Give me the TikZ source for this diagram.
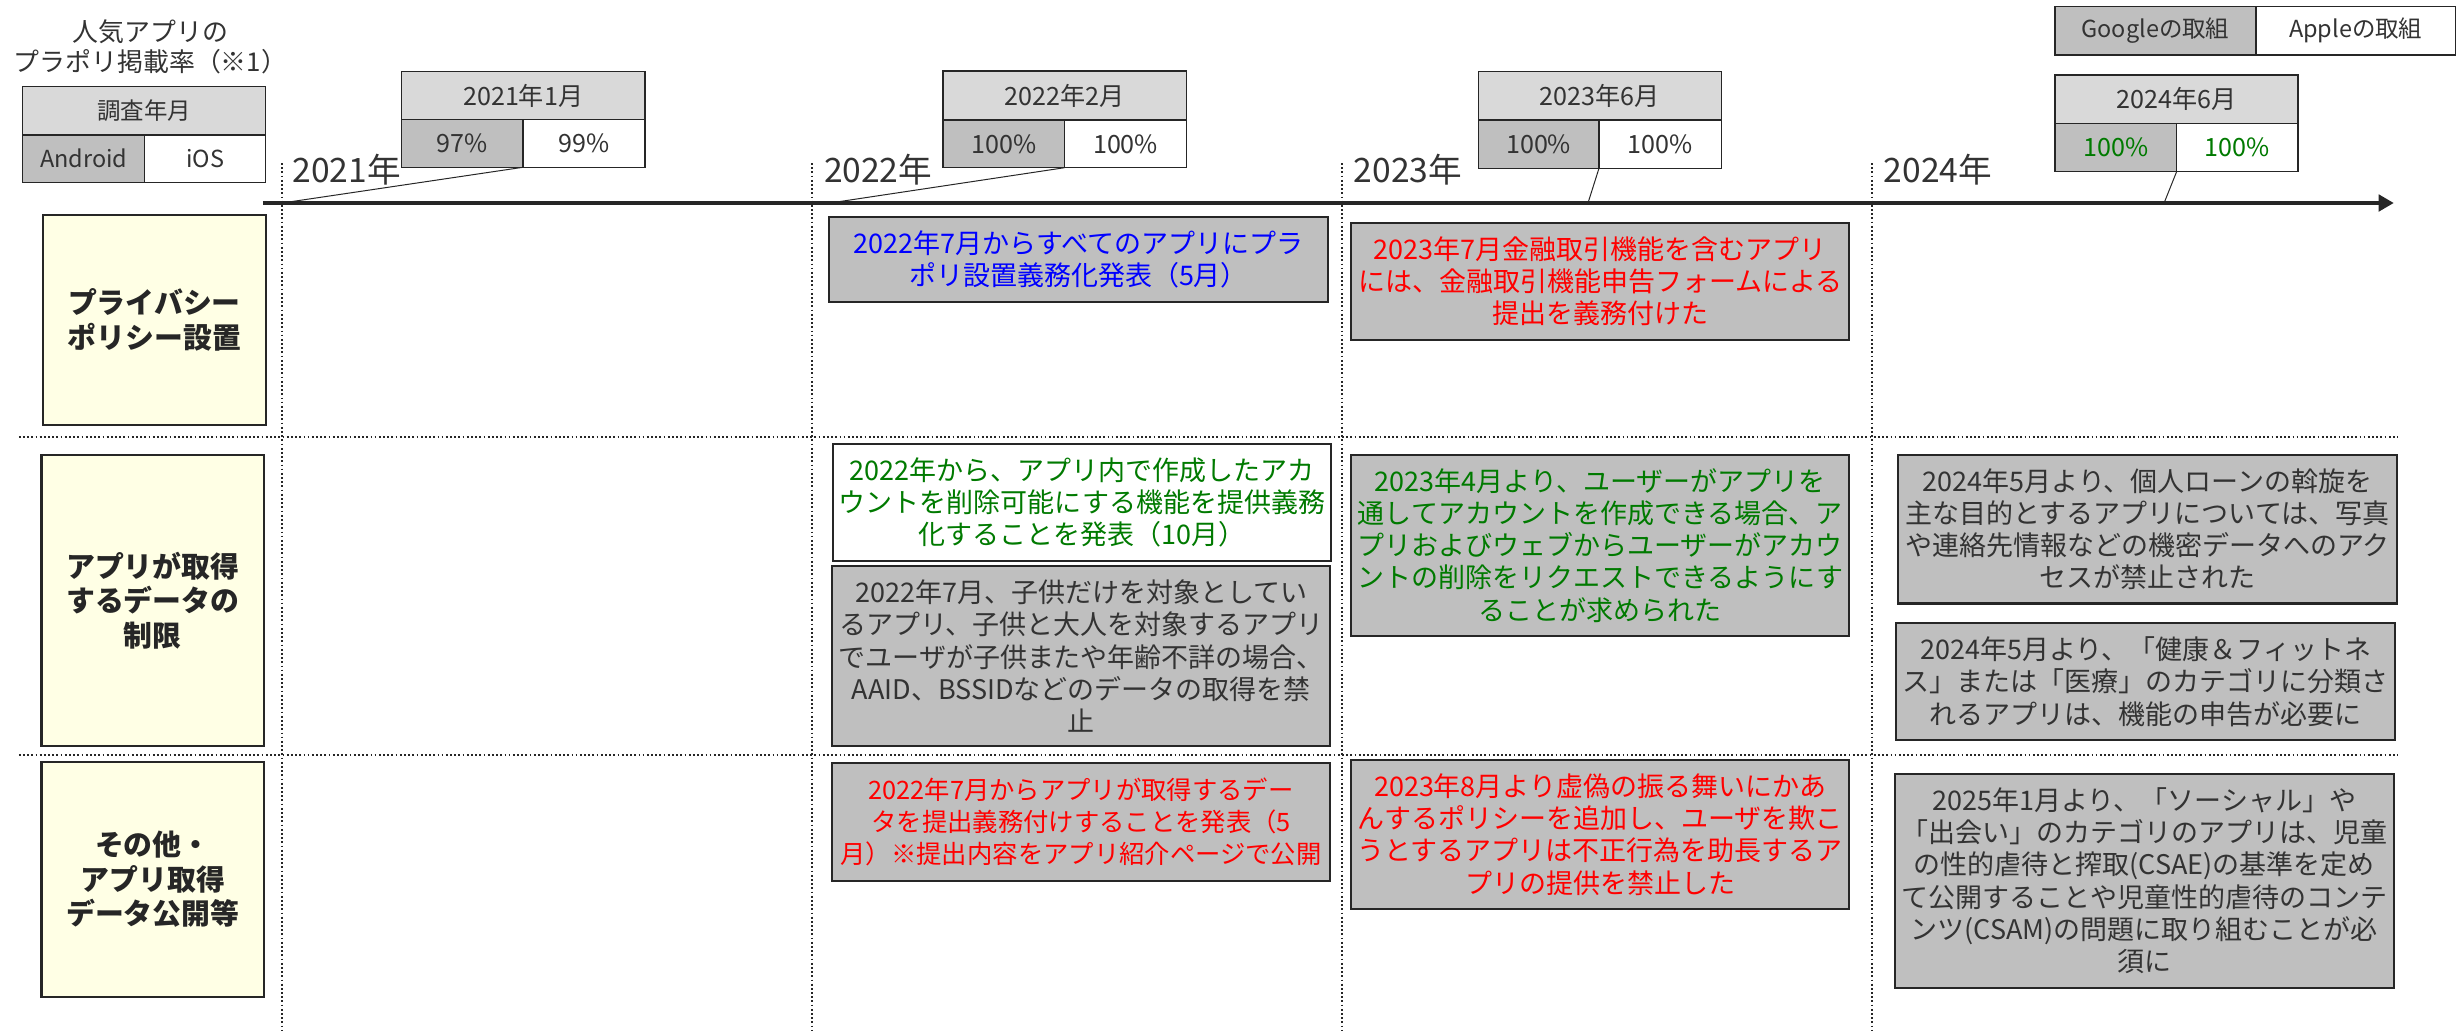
\documentclass[tikz,border=0pt]{standalone}
\usepackage{fontspec}
\setmainfont{Noto Sans CJK JP}
\usetikzlibrary{arrows.meta}
\definecolor{gry}{HTML}{BFBFBF}
\definecolor{hdr}{HTML}{D9D9D9}
\definecolor{yel}{HTML}{FFFFE5}
\definecolor{bdr}{HTML}{262626}
\definecolor{txt}{HTML}{333333}
\definecolor{blu}{HTML}{0000FF}
\definecolor{rd}{HTML}{FF0000}
\definecolor{grn}{HTML}{007A00}
\def\U{0.5mm}
\begin{document}
\begin{tikzpicture}[x=0.5mm,y=-0.5mm,
 tbox/.style={draw=bdr, line width=1.9pt, inner sep=0pt, outer sep=0pt, anchor=north west, align=center, font=\fontsize{24.5}{29.2}\selectfont},
 catbox/.style={draw=bdr, fill=yel, line width=1.9pt, inner sep=0pt, outer sep=0pt, anchor=north west, align=center, text=bdr, font=\fontsize{26.2}{31.3}\selectfont\bfseries},
 cell/.style={draw=bdr, line width=1.3pt, inner sep=0pt, outer sep=0pt, anchor=north west, text=txt, font=\fontsize{22.8}{27}\selectfont},
 lcell/.style={cell, font=\fontsize{21.3}{25}\selectfont},
 dotline/.style={draw=bdr, line width=1.6pt, dash pattern=on 1.6pt off 2.2pt},
 conn/.style={draw=bdr, line width=0.9pt},
 yr/.style={anchor=west, inner sep=0pt, text=txt, font=\fontsize{30.5}{36}\selectfont}
]
\useasboundingbox (0,0) rectangle (1568,657.7);
\fill[white] (0,0) rectangle (1568,657.7);

% grid lines
\foreach \x [count=\i] in {180,518,856,1194}{
  \coordinate (vt\i) at (\x,104);
  \coordinate (vb\i) at (\x,657.7);
  \draw[dotline] (vt\i) -- (vb\i);
}
\coordinate (h1l) at (12,279); \coordinate (h1r) at (1530,279);
\coordinate (h2l) at (12,481.5); \coordinate (h2r) at (1530,481.5);
\draw[dotline] (h1l) -- (h1r);
\draw[dotline] (h2l) -- (h2r);

% title
\node[align=center, inner sep=0pt, text=txt, font=\fontsize{23.5}{27.3}\selectfont] (title) at (96,29.7) {人気アプリの\\プラポリ掲載率（※1）};

% legend: survey
\node[lcell, fill=hdr, minimum width=155*\U, minimum height=30.7*\U] (lgh) at (14.5,55.3) {調査年月};
\node[lcell, fill=gry, minimum width=77.8*\U, minimum height=30.5*\U] (lga) at (14.5,86) {Android};
\node[lcell, fill=white, minimum width=77.2*\U, minimum height=30.5*\U] (lgi) at (92.3,86) {iOS};

% legend: Google / Apple
\node[lcell, fill=gry, minimum width=128*\U, minimum height=30.7*\U] (lgo) at (1311,4.3) {Googleの取組};
\node[lcell, fill=white, minimum width=127.5*\U, minimum height=30.7*\U] (lap) at (1439,4.3) {Appleの取組};

% timeline
\coordinate (tl0) at (167.7,129.5);
\coordinate (tl1) at (1527,129.5);
\draw[draw=bdr, line width=3pt, -{Triangle[length=13.7pt,width=15pt]}] (tl0) -- (tl1);
\coordinate (t1) at (180,129.5);
\coordinate (t2) at (529.5,129.5);
\coordinate (t3) at (1013,129.5);
\coordinate (t4) at (1380.5,129.5);

% year labels
\node[yr] (y1) at (186.5,108) {2021年};
\node[yr] (y2) at (525.5,108) {2022年};
\node[yr] (y3) at (863.5,108) {2023年};
\node[yr] (y4) at (1201.5,108) {2024年};

% survey boxes
\node[cell, fill=hdr, minimum width=155.5*\U, minimum height=30.5*\U] (s1h) at (256,45.7) {2021年1月};
\node[cell, fill=gry, minimum width=77.7*\U, minimum height=30.5*\U] (s1g) at (256,76.2) {97\%};
\node[cell, fill=white, minimum width=77.8*\U, minimum height=30.5*\U] (s1a) at (333.7,76.2) {99\%};

\node[cell, fill=hdr, minimum width=155.4*\U, minimum height=31.3*\U] (s2h) at (601.6,45.3) {2022年2月};
\node[cell, fill=gry, minimum width=77.4*\U, minimum height=30.4*\U] (s2g) at (601.6,76.6) {100\%};
\node[cell, fill=white, minimum width=78*\U, minimum height=30.4*\U] (s2a) at (679,76.6) {100\%};

\node[cell, fill=hdr, minimum width=155*\U, minimum height=30.9*\U] (s3h) at (943,45.7) {2023年6月};
\node[cell, fill=gry, minimum width=77*\U, minimum height=30.8*\U] (s3g) at (943,76.6) {100\%};
\node[cell, fill=white, minimum width=78*\U, minimum height=30.8*\U] (s3a) at (1020,76.6) {100\%};

\node[cell, fill=hdr, minimum width=155*\U, minimum height=30.8*\U] (s4h) at (1311,47.9) {2024年6月};
\node[cell, fill=gry, minimum width=77.5*\U, minimum height=30.8*\U, text=grn] (s4g) at (1311,78.7) {100\%};
\node[cell, fill=white, minimum width=77.5*\U, minimum height=30.8*\U, text=grn] (s4a) at (1388.5,78.7) {100\%};

\draw[conn] (s1g.south east) -- (t1);
\draw[conn] (s2g.south east) -- (t2);
\draw[conn] (s3g.south east) -- (t3);
\draw[conn] (s4g.south east) -- (t4);

% category boxes
\node[catbox, minimum width=142*\U, minimum height=134*\U] (c1) at (27.5,137) {プライバシー\\ポリシー設置};
\node[catbox, minimum width=142*\U, minimum height=186*\U] (c2) at (26.5,290) {アプリが取得\\するデータの\\制限};
\node[catbox, minimum width=142*\U, minimum height=150*\U] (c3) at (26.5,486) {その他・\\アプリ取得\\データ公開等};

% row 1
\node[tbox, fill=gry, text=blu, minimum width=318*\U, minimum height=53.8*\U] (a1) at (529,138.6) {2022年7月からすべてのアプリにプラ\\ポリ設置義務化発表（5月）};
\node[tbox, fill=gry, text=rd, minimum width=317.6*\U, minimum height=75*\U] (b1) at (862,142) {2023年7月金融取引機能を含むアプリ\\には、金融取引機能申告フォームによる\\提出を義務付けた};

% row 2
\node[tbox, fill=white, text=grn, minimum width=317.5*\U, minimum height=74.2*\U] (a2a) at (531.5,283.5) {2022年から、アプリ内で作成したアカ\\ウントを削除可能にする機能を提供義務\\化することを発表（10月）};
\node[tbox, fill=gry, text=txt, minimum width=317.5*\U, minimum height=115*\U] (a2b) at (531,361) {2022年7月、子供だけを対象としてい\\るアプリ、子供と大人を対象するアプリ\\でユーザが子供またや年齢不詳の場合、\\AAID、BSSIDなどのデータの取得を禁\\止};
\node[tbox, fill=gry, text=grn, minimum width=317.6*\U, minimum height=115.3*\U] (b2) at (862,290.3) {2023年4月より、ユーザーがアプリを\\通してアカウントを作成できる場合、ア\\プリおよびウェブからユーザーがアカウ\\ントの削除をリクエストできるようにす\\ることが求められた};
\node[tbox, fill=gry, text=txt, minimum width=318*\U, minimum height=95*\U] (c2a) at (1211,290) {2024年5月より、個人ローンの斡旋を\\主な目的とするアプリについては、写真\\や連絡先情報などの機密データへのアク\\セスが禁止された};
\node[tbox, fill=gry, text=txt, minimum width=318.5*\U, minimum height=74.3*\U] (c2b) at (1209.5,397.7) {2024年5月より、「健康＆フィットネ\\ス」または「医療」のカテゴリに分類さ\\れるアプリは、機能の申告が必要に};

% row 3
\node[tbox, fill=gry, text=rd, minimum width=317.3*\U, minimum height=75*\U, font=\fontsize{23}{29.2}\selectfont] (a3) at (531,487) {2022年7月からアプリが取得するデー\\タを提出義務付けすることを発表（5\\月）※提出内容をアプリ紹介ページで公開};
\node[tbox, fill=gry, text=rd, minimum width=317.6*\U, minimum height=95.2*\U] (b3) at (862,484.8) {2023年8月より虚偽の振る舞いにかあ\\んするポリシーを追加し、ユーザを欺こ\\うとするアプリは不正行為を助長するア\\プリの提供を禁止した};
\node[tbox, fill=gry, text=txt, minimum width=318.4*\U, minimum height=136.3*\U] (c3b) at (1208.6,493.7) {2025年1月より、「ソーシャル」や\\「出会い」のカテゴリのアプリは、児童\\の性的虐待と搾取(CSAE)の基準を定め\\て公開することや児童性的虐待のコンテ\\ンツ(CSAM)の問題に取り組むことが必\\須に};
\end{tikzpicture}
\end{document}
